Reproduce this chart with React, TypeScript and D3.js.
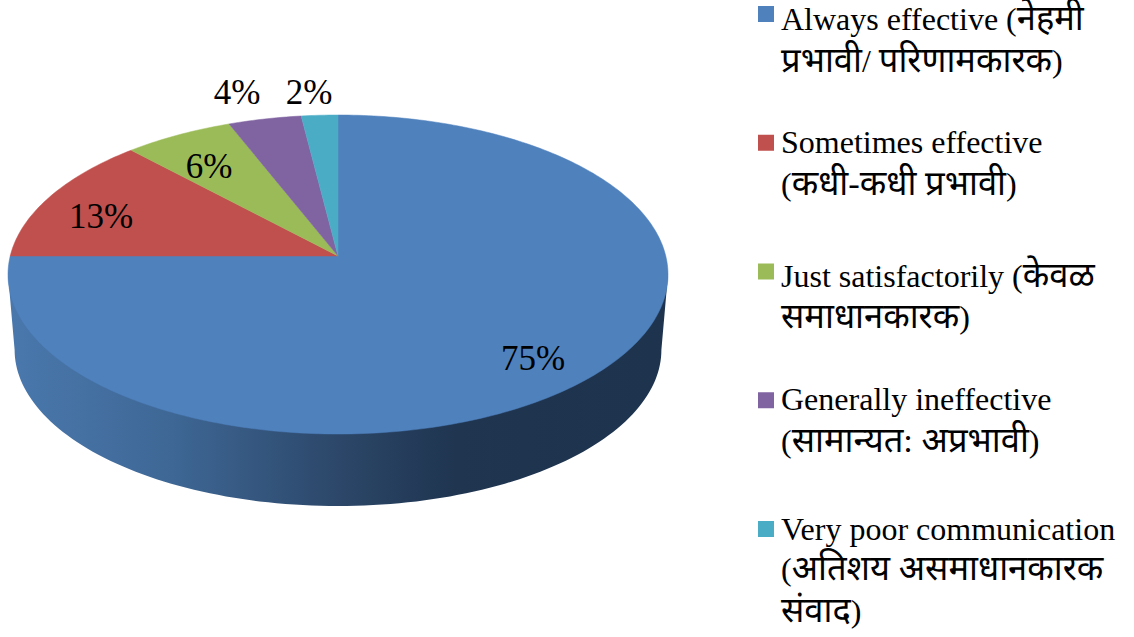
import React from "react";
import * as d3 from "d3";

const categories = ["Always effective", "Sometimes effective", "Just satisfactorily", "Generally ineffective", "Very poor communication"];
const values = [75, 13, 6, 4, 2];
const colors = ["#4f81bd", "#c0504d", "#9bbb59", "#8064a2", "#4bacc6"];
const legendLines = [
  ["Always effective (नेहमी", "प्रभावी/ परिणामकारक)"],
  ["Sometimes effective", "(कधी-कधी प्रभावी)"],
  ["Just satisfactorily (केवळ", "समाधानकारक)"],
  ["Generally ineffective", "(सामान्यत: अप्रभावी)"],
  ["Very poor communication", "(अतिशय असमाधानकारक", "संवाद)"],
];

const W = 1134, H = 637;
const cx = 338, cy = 256;
const k = 37 / 319;
const a = 178 * (1 - k);
const b = 330 * Math.sqrt(1 - k * k);
const TAU = Math.PI * 2;

const project = (theta: number, scale = 1, dy = 0): [number, number] => {
  const u = Math.sin(theta);
  const v = -Math.cos(theta);
  const w = 1 - k * v;
  return [cx + (b * scale * u) / w, cy + dy + (a * scale * v) / w];
};

// The chart starts with the first slice at 12 o'clock and runs clockwise.
const arcs = d3.pie<number>().sort(null).startAngle(0).endAngle(TAU)(values);
const line = d3.line();

const wedge = (s: number, e: number) => {
  const n = Math.max(4, Math.ceil(((e - s) / TAU) * 360));
  const pts = d3.range(n + 1).map((i) => project(s + ((e - s) * i) / n));
  return line([[cx, cy], ...pts]) + "Z";
};

const sideScale = 0.98, sideDy = 75.6;
const ext = Math.PI / 2 + Math.asin(k);
const sidePts = d3.range(121).map((i) => project(ext + ((TAU - 2 * ext) * i) / 120, sideScale, sideDy));
const sidePath = line([...sidePts, project(TAU - ext), project(ext)]) + "Z";

const legendY = d3.scalePoint<number>().domain(d3.range(5)).range([6, 521]);
const baselines = [[30, 72], [153, 195], [287, 328], [410, 452], [540, 580, 622]];
const labelPos: [number, number][] = [[533, 370], [101, 228], [209, 178], [237, 104], [309, 104]];

const serif = "'Liberation Serif', 'Times New Roman', 'Noto Sans', 'DejaVu Sans', serif";

// Split a legend line into Latin and Devanagari runs, which the reference sets at different sizes.
const runs = (t: string) => t.match(/[\u0900-\u097F]+(?:[ :\-]+[\u0900-\u097F]+)*|[^\u0900-\u097F]+/g) ?? [t];
const isDeva = (t: string) => /[\u0900-\u097F]/.test(t);

export default function App() {
  return (
    <svg width={W} height={H} viewBox={`0 0 ${W} ${H}`} style={{ position: "absolute", left: 0, top: 0, display: "block", background: "#fff" }}>
      <defs>
        <linearGradient id="side" gradientUnits="userSpaceOnUse" x1={8} x2={667} y1={0} y2={0}>
          <stop offset="0" stopColor="#4a78ad" />
          <stop offset="0.25" stopColor="#3e6795" />
          <stop offset="0.5" stopColor="#2c4769" />
          <stop offset="0.68" stopColor="#1f3550" />
          <stop offset="1" stopColor="#1e334d" />
        </linearGradient>
      </defs>
      <path d={sidePath} fill="url(#side)" />
      {arcs.map((d, i) => (
        <path key={categories[i]} d={wedge(d.startAngle, d.endAngle)} fill={colors[i]} stroke={colors[i]} strokeWidth={0.5} />
      ))}
      {values.map((v, i) => (
        <text key={i} x={labelPos[i][0]} y={labelPos[i][1]} textAnchor="middle" fontFamily={serif} fontSize={35} fill="#000">{v}%</text>
      ))}
      {legendLines.map((lines, i) => (
        <g key={i}>
          <rect x={758} y={legendY(i)} width={16} height={16} fill={colors[i]} />
          {lines.map((t, j) => (
            <text key={j} x={781} y={baselines[i][j]} fontFamily={serif} fontSize={32} fill="#000" xmlSpace="preserve">
              {runs(t).map((r, m) => (
                <tspan key={m} fontSize={isDeva(r) ? 34.5 : 32}>{r}</tspan>
              ))}
            </text>
          ))}
        </g>
      ))}
    </svg>
  );
}
